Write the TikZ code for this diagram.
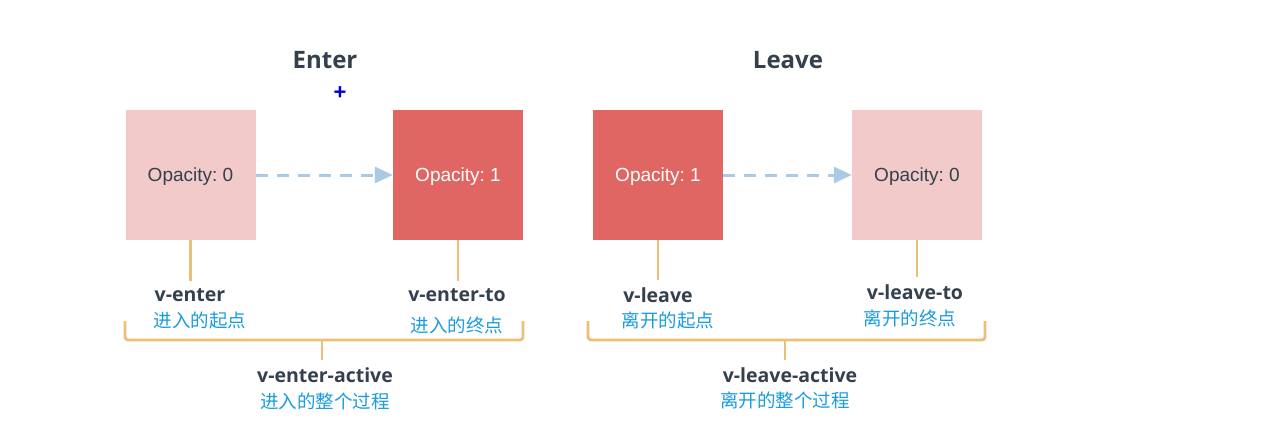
\documentclass[tikz,border=0pt]{standalone}
\usepackage{fontspec}
\setmainfont{Liberation Sans}
\newfontfamily\labelfont{Open Sans}
\newfontfamily\cjk{Noto Sans CJK SC}
\usepackage{xcolor}
\usepackage{tikz}
\usetikzlibrary{arrows.meta,positioning}
\frenchspacing

\definecolor{pale}{HTML}{F2CACA}
\definecolor{strong}{HTML}{E06663}
\definecolor{ink}{HTML}{34404D}
\definecolor{hint}{HTML}{1A9BE0}
\definecolor{brace}{HTML}{EBBE7A}
\definecolor{flowblue}{HTML}{A9C9E4}

\begin{document}
\begin{tikzpicture}[x=1pt, y=-1pt,
    paintbox/.style={minimum width=130pt, minimum height=130pt, inner sep=0pt, text depth=0pt, font=\fontsize{19}{20}\selectfont},
    faded/.style={paintbox, fill=pale, text=ink},
    solid/.style={paintbox, fill=strong, text=white},
    title/.style={text=ink, font=\labelfont\bfseries\fontsize{24}{26}\selectfont},
    cls/.style={text=ink, font=\labelfont\bfseries\fontsize{19.5}{21}\selectfont, inner sep=1pt},
    note/.style={text=hint, font=\cjk\fontsize{18.5}{20}\selectfont, inner sep=1pt},
    flow/.style={draw=flowblue, line width=3pt, dash pattern=on 12pt off 9pt, -{Triangle[length=18pt,width=16pt]}},
    tick/.style={draw=brace, line width=2.8pt, shorten >=6pt},
    bracket/.style={draw=brace, line width=2.8pt, rounded corners=3pt}]
\useasboundingbox (0,0) rectangle (1271,433);

% enter
\node[title] (enter) at (325,60) {Enter};
\node[text=blue!80!black, font=\bfseries\fontsize{22}{22}\selectfont] (cursor) at (340,93) {+};
\node[faded] (e0) at (190.5,175) {Opacity: 0};
\node[solid] (e1) at (458,175) {Opacity: 1};
\draw[flow] (e0) -- (e1);

\node[cls] (venter) at (190,295) {v-enter};
\node[note] (venterzh) at (200,321) {进入的起点};
\node[cls] (venterto) at (457,295) {v-enter-to};
\node[note] (ventertozh) at (457,325) {进入的终点};
\draw[tick] (e0.south) -- (e0.south |- venter.north);
\draw[tick] (e1.south) -- (e1.south |- venterto.north);

\draw[bracket] (125,321) -- (125,340) -- (523,340) -- (523,321);
\coordinate (emid) at (322,340);
\node[cls] (enteractive) at (325,375) {v-enter-active};
\node[note] (enteractivezh) at (325,401) {进入的整个过程};
\draw[tick] (emid) -- (emid |- enteractive.north);

% leave
\node[title] (leave) at (788,60) {Leave};
\node[solid] (l1) at (658,175) {Opacity: 1};
\node[faded] (l0) at (917,175) {Opacity: 0};
\draw[flow] (l1) -- (l0);

\node[cls] (vleave) at (658,295) {v-leave};
\node[note] (vleavezh) at (668,320) {离开的起点};
\node[cls] (vleaveto) at (915,292) {v-leave-to};
\node[note] (vleavetozh) at (910,318) {离开的终点};
\draw[tick] (l1.south) -- (l1.south |- vleave.north);
\draw[tick] (l0.south) -- (l0.south |- vleaveto.north);

\draw[bracket] (588,321) -- (588,340) -- (985,340) -- (985,321);
\coordinate (lmid) at (785,340);
\node[cls] (leaveactive) at (790,375) {v-leave-active};
\node[note] (leaveactivezh) at (785,400) {离开的整个过程};
\draw[tick] (lmid) -- (lmid |- leaveactive.north);
\end{tikzpicture}
\end{document}
